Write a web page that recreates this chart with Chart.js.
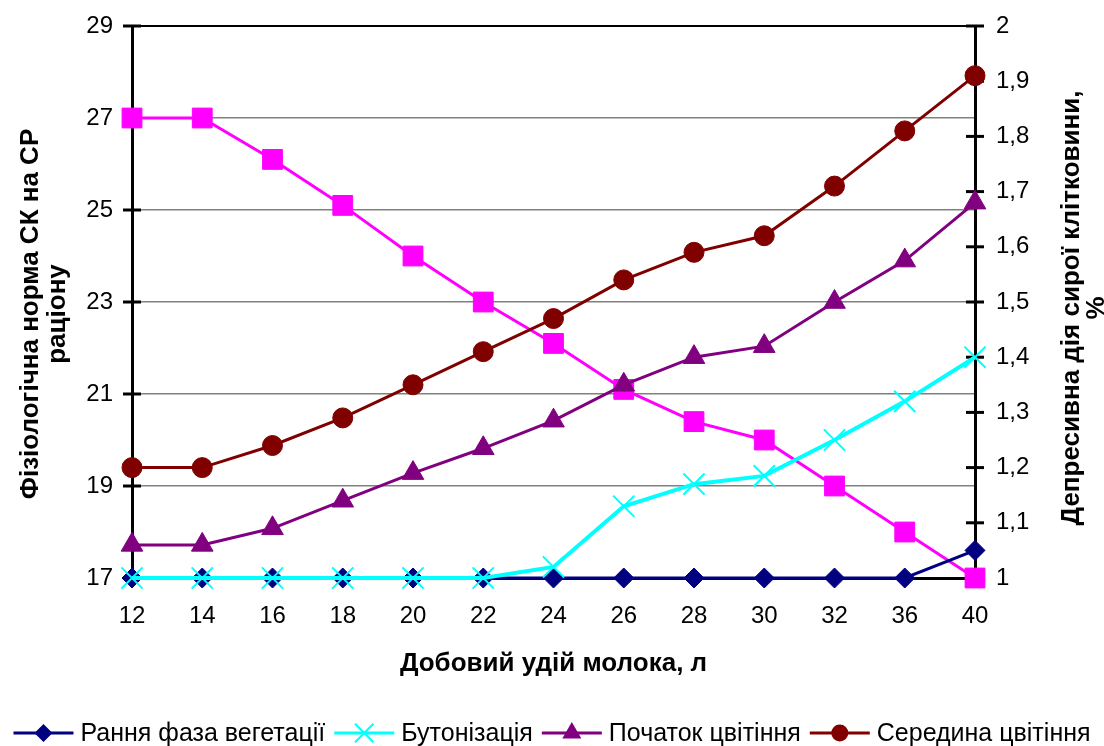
<!DOCTYPE html>
<html>
<head>
<meta charset="utf-8">
<script src="https://cdn.jsdelivr.net/npm/chart.js@4/dist/chart.umd.min.js"></script>
<style>
  html, body { margin: 0; padding: 0; background: #ffffff; }
  #wrap { width: 1104px; height: 746px; }
</style>
</head>
<body>
<div id="wrap"><canvas id="chart" width="1104" height="746"></canvas></div>
<script>
// Daily milk yield, l (category axis)
const milkYield = ['12', '14', '16', '18', '20', '22', '24', '26', '28', '30', '32', '36', '40'];

// Physiological crude-fibre norm, left axis
const fiberNorm = [27, 27, 26.1, 25.1, 24, 23, 22.1, 21.1, 20.4, 20, 19, 18, 17];

// Depressive effect of crude fibre, %, right axis
const earlyVegetation = [1, 1, 1, 1, 1, 1, 1, 1, 1, 1, 1, 1, 1.05];
const budding = [1, 1, 1, 1, 1, 1, 1.02, 1.13, 1.17, 1.185, 1.25, 1.32, 1.4];
const floweringStart = [1.06, 1.06, 1.09, 1.14, 1.19, 1.235, 1.285, 1.35, 1.4, 1.42, 1.5, 1.575, 1.68];
const floweringMid = [1.2, 1.2, 1.24, 1.29, 1.35, 1.41, 1.47, 1.54, 1.59, 1.62, 1.71, 1.81, 1.91];

// Axis ranges
const leftRange = { min: 17, max: 29, step: 2 };
const rightRange = { min: 1, max: 2, step: 0.1 };

const FONT = '"Liberation Sans", Arial, sans-serif';
const TICK_SIZE = 24;
const TITLE_SIZE = 26;
Chart.defaults.font.family = FONT;
Chart.defaults.color = '#000000';

function fmtComma(v) {
  const r = Math.round(v * 10) / 10;
  return (Number.isInteger(r) ? String(r) : r.toFixed(1)).replace('.', ',');
}

// Own marker painter (used for the legend samples)
function paintMarker(ctx, style, x, y, r, fill, stroke, bw) {
  ctx.save();
  ctx.fillStyle = fill;
  ctx.strokeStyle = stroke;
  ctx.lineWidth = bw;
  ctx.beginPath();
  if (style === 'circle') {
    ctx.arc(x, y, r, 0, Math.PI * 2);
    ctx.fill();
  } else if (style === 'rectRot') {
    ctx.moveTo(x, y - r); ctx.lineTo(x + r, y); ctx.lineTo(x, y + r); ctx.lineTo(x - r, y);
    ctx.closePath(); ctx.fill();
  } else if (style === 'rect') {
    const s = r * Math.SQRT1_2;
    ctx.rect(x - s, y - s, 2 * s, 2 * s); ctx.fill();
  } else if (style === 'triangle') {
    const a = Math.PI * 2 / 3;
    ctx.moveTo(x, y - r);
    ctx.lineTo(x + Math.sin(a) * r, y - Math.cos(a) * r);
    ctx.lineTo(x + Math.sin(2 * a) * r, y - Math.cos(2 * a) * r);
    ctx.closePath(); ctx.fill();
  } else if (style === 'crossRot') {
    const o = r * Math.SQRT1_2;
    ctx.moveTo(x - o, y - o); ctx.lineTo(x + o, y + o);
    ctx.moveTo(x - o, y + o); ctx.lineTo(x + o, y - o);
    ctx.stroke();
  }
  ctx.restore();
}

// Tick marks crossing both value axes
const crossTicks = {
  id: 'crossTicks',
  beforeDatasetsDraw(chart) {
    const { ctx, chartArea } = chart;
    ctx.save();
    ctx.strokeStyle = '#000000';
    ctx.lineWidth = 3;
    [['y', chartArea.left], ['y1', chartArea.right]].forEach(([id, x]) => {
      const s = chart.scales[id];
      s.ticks.forEach(t => {
        const y = s.getPixelForValue(t.value);
        ctx.beginPath();
        ctx.moveTo(x - 9, y);
        ctx.lineTo(x + 9, y);
        ctx.stroke();
      });
    });
    ctx.restore();
  }
};

// Two-line rotated titles of the value axes
const valueAxisTitles = {
  id: 'valueAxisTitles',
  afterDraw(chart, args, opts) {
    const { ctx } = chart;
    ctx.save();
    ctx.font = 'bold ' + opts.fontSize + 'px ' + FONT;
    ctx.fillStyle = '#000000';
    ctx.textAlign = 'center';
    ctx.textBaseline = 'middle';
    opts.titles.forEach(t => {
      t.lines.forEach((line, i) => {
        ctx.save();
        ctx.translate(t.x + i * t.gap, t.y);
        ctx.rotate(-Math.PI / 2);
        ctx.fillText(line, 0, 0);
        ctx.restore();
      });
    });
    ctx.restore();
  }
};

// Legend row with line samples and markers
const lineLegend = {
  id: 'lineLegend',
  afterDraw(chart, args, opts) {
    const { ctx } = chart;
    const items = chart.data.datasets.filter(d => d.inLegend !== false);
    ctx.save();
    ctx.font = opts.fontSize + 'px ' + FONT;
    const widths = items.map(d => ctx.measureText(d.label).width);
    const total = widths.reduce((a, b) => a + b, 0) +
      items.length * (opts.sample + opts.textGap) + (items.length - 1) * opts.itemGap;
    let x = (chart.width - total) / 2;
    const y = opts.y;
    items.forEach((d, i) => {
      ctx.strokeStyle = d.borderColor;
      ctx.lineWidth = 3;
      ctx.beginPath();
      ctx.moveTo(x, y);
      ctx.lineTo(x + opts.sample, y);
      ctx.stroke();
      paintMarker(ctx, d.pointStyle, x + opts.sample / 2, y, d.legendRadius,
        d.pointBackgroundColor, d.pointBorderColor, d.pointBorderWidth);
      x += opts.sample + opts.textGap;
      ctx.fillStyle = '#000000';
      ctx.textAlign = 'left';
      ctx.textBaseline = 'middle';
      ctx.fillText(d.label, x, y + 1);
      x += widths[i] + opts.itemGap;
    });
    ctx.restore();
  }
};

function series(label, data, axis, color, style, radius, legendRadius, lineWidth, extra) {
  return Object.assign({
    label, data, yAxisID: axis,
    borderColor: color, backgroundColor: color,
    borderWidth: lineWidth,
    pointStyle: style, pointRadius: radius, pointHoverRadius: radius,
    pointBackgroundColor: color, pointBorderColor: color, pointBorderWidth: 1,
    legendRadius,
    tension: 0, clip: false
  }, extra || {});
}

new Chart(document.getElementById('chart'), {
  type: 'line',
  data: {
    labels: milkYield,
    datasets: [
      series('Фізіологічна норма СК на СР раціону', fiberNorm, 'y', '#FF00FF', 'rect', 14, 12, 3, { inLegend: false, order: 5 }),
      series('Рання фаза вегетації', earlyVegetation, 'y1', '#000080', 'rectRot', 10, 9, 3, { order: 4 }),
      series('Бутонізація', budding, 'y1', '#00FFFF', 'crossRot', 15, 13, 4, { pointBorderWidth: 2, order: 3 }),
      series('Початок цвітіння', floweringStart, 'y1', '#800080', 'triangle', 12.5, 11, 3, { order: 2 }),
      series('Середина цвітіння', floweringMid, 'y1', '#800000', 'circle', 10, 8.5, 3, { order: 1 })
    ]
  },
  options: {
    responsive: false,
    animation: false,
    devicePixelRatio: 1,
    layout: { padding: { top: 26, left: 0, right: 0, bottom: 0 } },
    plugins: {
      legend: { display: false },
      tooltip: { enabled: false },
      valueAxisTitles: {
        fontSize: TITLE_SIZE,
        titles: [
          { lines: ['Фізіологічна норма СК на СР', 'раціону'], x: 31, y: 314, gap: 27 },
          { lines: ['Депресивна дія сирої клітковини,', '%'], x: 1072, y: 308, gap: 25 }
        ]
      },
      lineLegend: { y: 733, fontSize: 25, sample: 60, textGap: 7, itemGap: 9 }
    },
    scales: {
      x: {
        type: 'category',
        offset: false,
        grid: { display: false, drawTicks: false },
        border: { display: true, color: '#000000', width: 3 },
        ticks: { font: { size: TICK_SIZE }, color: '#000000', padding: 24, maxRotation: 0, autoSkip: false },
        title: {
          display: true, text: 'Добовий удій молока, л',
          font: { size: TITLE_SIZE, weight: 'bold' }, color: '#000000',
          padding: { top: 0, bottom: 67 }
        },
        afterFit(s) { s.height = 168; s.paddingLeft = 0; s.paddingRight = 0; }
      },
      y: {
        position: 'left',
        min: leftRange.min, max: leftRange.max,
        ticks: { stepSize: leftRange.step, font: { size: TICK_SIZE }, color: '#000000', padding: 19 },
        grid: {
          drawTicks: false,
          lineWidth: ctx => (ctx.tick && ctx.tick.value === leftRange.max ? 2 : 1.5),
          color: ctx => {
            if (!ctx.tick) return '#808080';
            if (ctx.tick.value === leftRange.min) return 'rgba(0,0,0,0)';
            return ctx.tick.value === leftRange.max ? '#000000' : '#808080';
          }
        },
        border: { display: true, color: '#000000', width: 3 },
        afterFit(s) { s.width = 132; s.paddingTop = 0; s.paddingBottom = 0; }
      },
      y1: {
        position: 'right',
        min: rightRange.min, max: rightRange.max,
        ticks: {
          stepSize: rightRange.step, font: { size: TICK_SIZE }, color: '#000000', padding: 21,
          callback: v => fmtComma(v)
        },
        grid: { display: true, drawOnChartArea: false, drawTicks: false },
        border: { display: true, color: '#000000', width: 3 },
        afterFit(s) { s.width = 129; s.paddingTop = 0; s.paddingBottom = 0; }
      }
    }
  },
  plugins: [crossTicks, valueAxisTitles, lineLegend]
});
</script>
</body>
</html>
